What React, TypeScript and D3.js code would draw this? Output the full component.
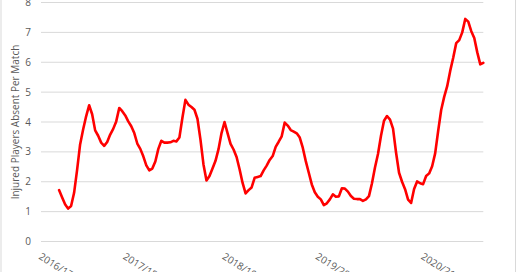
import React from "react";
import * as d3 from "d3";

// Injured players absent per match (rolling), one value per category slot
const values: (number | null)[] = [
  null, null, null, null, null, null,
  1.72, 1.48, 1.25, 1.10, 1.19, 1.63, 2.40, 3.25, 3.75, 4.19,
  4.56, 4.26, 3.72, 3.54, 3.31, 3.20, 3.33, 3.58, 3.77, 4.02,
  4.47, 4.36, 4.22, 4.02, 3.86, 3.63, 3.28, 3.10, 2.85, 2.55,
  2.38, 2.44, 2.68, 3.10, 3.37, 3.31, 3.31, 3.32, 3.37, 3.35,
  3.48, 4.14, 4.74, 4.58, 4.50, 4.41, 4.11, 3.41, 2.58, 2.04,
  2.19, 2.44, 2.70, 3.09, 3.63, 4.00, 3.63, 3.27, 3.08, 2.83,
  2.42, 1.96, 1.61, 1.72, 1.81, 2.13, 2.16, 2.19, 2.38, 2.54,
  2.73, 2.86, 3.17, 3.34, 3.52, 3.98, 3.88, 3.73, 3.68, 3.62,
  3.48, 3.14, 2.69, 2.30, 1.91, 1.65, 1.50, 1.41, 1.22, 1.28,
  1.41, 1.58, 1.50, 1.51, 1.78, 1.77, 1.67, 1.52, 1.43, 1.42,
  1.42, 1.36, 1.41, 1.52, 1.95, 2.48, 2.93, 3.54, 4.04, 4.20,
  4.08, 3.78, 2.98, 2.30, 2.00, 1.75, 1.40, 1.29, 1.76, 2.01,
  1.95, 1.92, 2.19, 2.28, 2.52, 2.95, 3.70, 4.40, 4.84, 5.20,
  5.71, 6.15, 6.64, 6.74, 7.00, 7.45, 7.36, 7.04, 6.81, 6.33,
  5.93, 5.98,
];

const seasonLabels = ["2016/17", "2017/18", "2018/19", "2019/20", "2020/21"];
const seasonStartIndex = [0, 28, 61, 92, 127];
const yTicks = [0, 1, 2, 3, 4, 5, 6, 7, 8];
const yTitle = "Injured Players Absent Per Match";

const W = 520;
const H = 272;
const FONT = "'Open Sans', 'Liberation Sans', sans-serif";

export default function App() {
  const x = d3
    .scaleLinear()
    .domain([0, values.length - 1])
    .range([41, 483.3]);
  const y = d3.scaleLinear().domain([0, 8]).range([241.5, 2.5]);

  const line = d3
    .line<number | null>()
    .defined((d) => d !== null)
    .x((_, i) => x(i))
    .y((d) => y(d as number))
    .curve(d3.curveLinear);

  return (
    <svg
      width={W}
      height={H}
      style={{ position: "absolute", left: 0, top: 0, background: "#fff" }}
    >
      <rect x={0} y={0} width={W} height={H} fill="#fff" />
      <line x1={1} y1={0} x2={1} y2={H} stroke="#d9d9d9" />
      <line x1={515.5} y1={0} x2={515.5} y2={H} stroke="#d9d9d9" />
      {yTicks.map((t) => (
        <g key={t}>
          <line
            x1={x(0)}
            x2={x(values.length - 1)}
            y1={y(t)}
            y2={y(t)}
            stroke="#d9d9d9"
            strokeWidth={1}
          />
          <text
            x={31}
            y={y(t)}
            dy="0.35em"
            textAnchor="end"
            fontFamily={FONT}
            fontSize={10}
            fill="#595959"
          >
            {t}
          </text>
        </g>
      ))}
      <text
        transform={`translate(19,${(y(0) + y(8)) / 2 + 0}) rotate(-90)`}
        textAnchor="middle"
        fontFamily={FONT}
        fontSize={10}
        fill="#595959"
      >
        {yTitle}
      </text>
      {seasonLabels.map((s, k) => (
        <text
          key={s}
          transform={`translate(${x(seasonStartIndex[k]) + 1},${252}) rotate(32)`}
          dy="0.75em"
          textAnchor="start"
          fontFamily={FONT}
          fontSize={10}
          fill="#595959"
        >
          {s}
        </text>
      ))}
      <path
        d={line(values) || ""}
        fill="none"
        stroke="#ff0000"
        strokeWidth={2.6}
        strokeLinejoin="round"
        strokeLinecap="round"
      />
    </svg>
  );
}
